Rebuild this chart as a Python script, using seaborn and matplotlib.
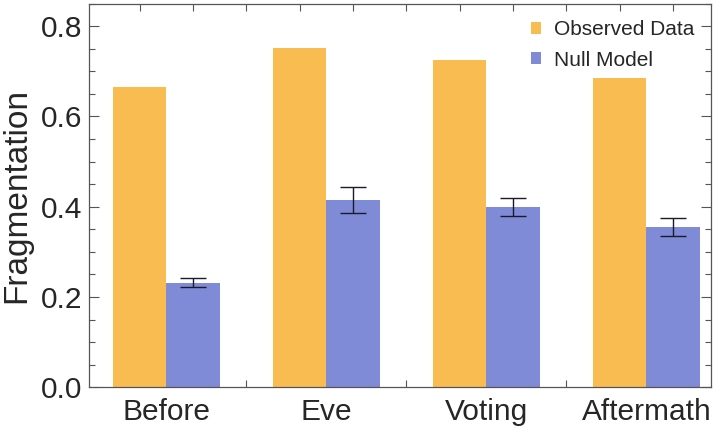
import numpy as np
import pandas as pd
import seaborn as sns
import matplotlib.pyplot as plt
from matplotlib.ticker import FixedLocator, MultipleLocator

# data
periods = ['Before', 'Eve', 'Voting', 'Aftermath']
observed = [0.664, 0.751, 0.725, 0.685]
null_model = [0.232, 0.415, 0.399, 0.355]
null_err = [0.010, 0.029, 0.020, 0.020]

df = pd.DataFrame({
    'period': periods * 2,
    'value': observed + null_model,
    'series': ['Observed Data'] * 4 + ['Null Model'] * 4,
})

sns.set_style('white')
plt.rcParams['font.family'] = ['Liberation Sans', 'DejaVu Sans']

fig = plt.figure(figsize=(7.14, 4.28), dpi=100)
ax = fig.add_axes([0.1246, 0.0951, 0.8712, 0.8967])

pal = {'Observed Data': '#f8bc50', 'Null Model': '#7f8bd6'}
sns.barplot(data=df, x='period', y='value', hue='series', palette=pal,
            width=2 / 3, saturation=1, errorbar=None, ax=ax, linewidth=0)

# error bars on the null model bars
blue_bars = [p for p in ax.patches if p.get_height() > 0][4:8]
xs = [p.get_x() + p.get_width() / 2 for p in blue_bars]
ax.errorbar(xs, null_model, yerr=null_err, fmt='none', ecolor='#1a1a2a',
            elinewidth=1, capsize=9.5, capthick=1)

ax.set_xlim(-0.483, 3.404)
ax.set_ylim(0, 0.85)

# labels at group centres, tick marks at bar centres / boundaries
ax.set_xticks(range(4))
ax.set_xticklabels(periods)
ax.xaxis.set_minor_locator(FixedLocator([-1 / 6 + k / 3 for k in range(12)]))
ax.tick_params(axis='x', which='major', length=0, pad=8, labelsize=21.5)
ax.tick_params(axis='x', which='minor', direction='in', length=5, width=0.8,
               top=True, bottom=True, color='#555555')

ax.yaxis.set_major_locator(MultipleLocator(0.2))
ax.yaxis.set_minor_locator(MultipleLocator(0.05))
ax.set_yticklabels([f'{v:.1f}' for v in ax.get_yticks()])
ax.tick_params(axis='y', which='major', direction='in', length=7, width=0.8,
               left=True, right=True, labelsize=21.5, pad=5, color='#555555')
ax.tick_params(axis='y', which='minor', direction='in', length=4, width=0.8,
               left=True, right=True, color='#555555')

for s in ax.spines.values():
    s.set_color('#555555')
    s.set_linewidth(0.9)

ax.set_xlabel('')
ax.set_ylabel('Fragmentation', fontsize=24, labelpad=6)

ax.legend(loc='upper right', frameon=False, fontsize=15,
          handlelength=0.5, handleheight=0.5, handletextpad=0.6,
          labelspacing=0.55, borderaxespad=0.4, bbox_to_anchor=(1.0, 1.0))

fig.savefig('out.png', dpi=100)
